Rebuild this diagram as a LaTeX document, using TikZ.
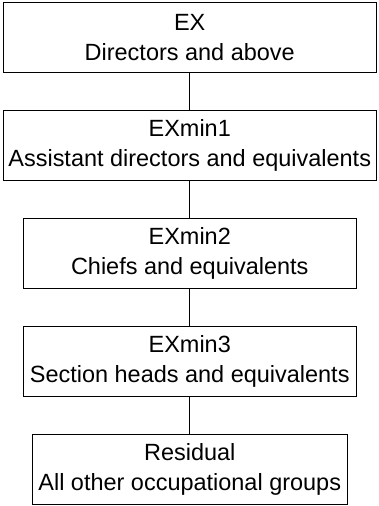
\documentclass[tikz,border=0pt]{standalone}
\usepackage{fontspec}
\setmainfont{Liberation Sans}
\usetikzlibrary{positioning}

\begin{document}
\begin{tikzpicture}[
        node distance=28.5pt,
        tier/.style={rectangle, draw, line width=0.8pt, minimum height=52.5pt,
                     align=center, inner sep=0pt, outer sep=0pt,
                     font=\fontsize{17.6}{22.5}\selectfont},
        link/.style={line width=0.8pt},
      ]
      \useasboundingbox (0,0) rectangle (283.5pt,-379.5pt);
      \node[tier, minimum width=280pt] (ex) at (142.3pt,-28.1pt) {EX\\Directors and above};
      \node[tier, minimum width=280pt, below=of ex] (exmin1)
        {EXmin1\\Assistant directors and equivalents};
      \node[tier, minimum width=250pt, below=of exmin1] (exmin2)
        {EXmin2\\Chiefs and equivalents};
      \node[tier, minimum width=250pt, below=of exmin2] (exmin3)
        {EXmin3\\Section heads and equivalents};
      \node[tier, minimum width=236pt, below=of exmin3] (residual)
        {Residual\\All other occupational groups};
      \draw[link] (ex) -- (exmin1);
      \draw[link] (exmin1) -- (exmin2);
      \draw[link] (exmin2) -- (exmin3);
      \draw[link] (exmin3) -- (residual);
    \end{tikzpicture}
\end{document}
